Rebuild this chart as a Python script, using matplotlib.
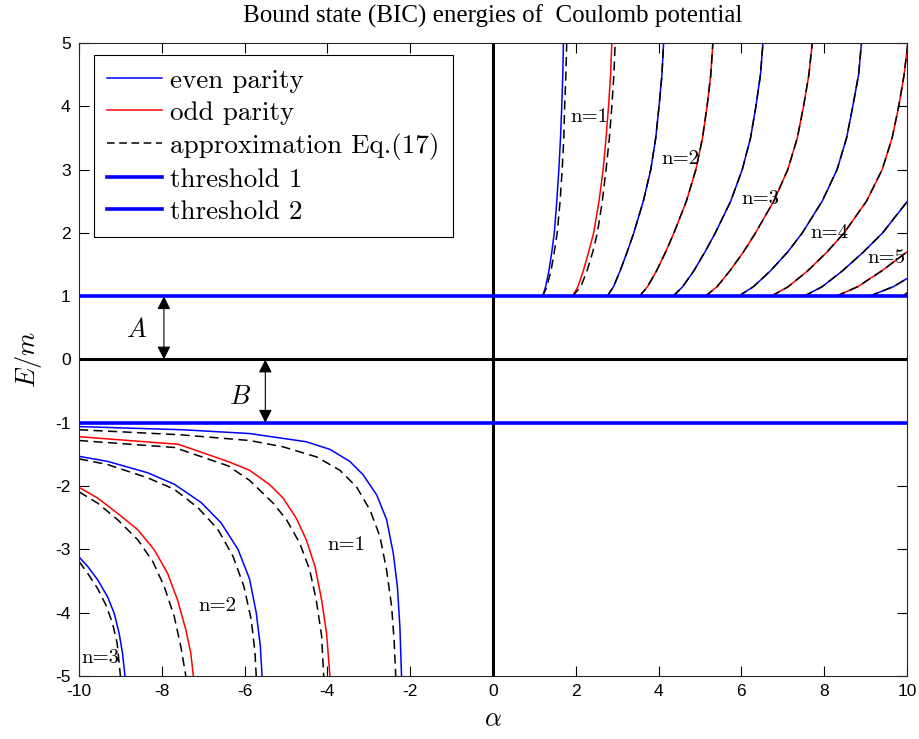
import matplotlib
matplotlib.use("Agg")
from matplotlib import pyplot as plt
from matplotlib.lines import Line2D
import numpy as np

plt.rcParams['mathtext.fontset'] = 'cm'
plt.rcParams['axes.unicode_minus'] = False

##-----------------------------------------------------------------------------
## data

# upper branch (E > m): energy grid shared by the curves that reach E/m = 5
E_up = [1.0, 1.15, 1.4, 1.7, 2.0, 2.5, 3.0, 3.5, 4.0, 4.5, 5.0]

even_up_1 = [1.20, 1.27, 1.35, 1.42, 1.48, 1.54, 1.59, 1.63, 1.66, 1.685, 1.70]
even_up_3 = [2.76, 2.91, 3.07, 3.24, 3.40, 3.63, 3.81, 3.93, 4.01, 4.08, 4.12]
even_up_5 = [4.35, 4.58, 4.85, 5.12, 5.37, 5.74, 6.02, 6.22, 6.35, 6.46, 6.52]
even_up_7 = [5.93, 6.29, 6.70, 7.12, 7.47, 7.95, 8.31, 8.54, 8.69, 8.83, 8.90]
even_up_9 = ([7.51, 7.95, 8.44, 8.95, 9.41, 10.01], [1.0, 1.15, 1.4, 1.7, 2.0, 2.5])
even_up_11 = ([9.09, 9.67, 10.31], [1.0, 1.15, 1.4])

odd_up_2 = [1.92, 2.05, 2.18, 2.31, 2.43, 2.56, 2.66, 2.73, 2.79, 2.84, 2.87]
odd_up_4 = [3.54, 3.73, 3.95, 4.17, 4.37, 4.67, 4.90, 5.06, 5.17, 5.26, 5.31]
odd_up_6 = [5.13, 5.41, 5.72, 6.05, 6.34, 6.78, 7.12, 7.35, 7.50, 7.63, 7.71]
odd_up_8 = [6.72, 7.13, 7.60, 8.07, 8.48, 9.02, 9.40, 9.64, 9.80, 9.93, 10.02]
odd_up_10 = ([8.29, 8.81, 9.39, 10.0], [1.0, 1.15, 1.4, 1.7])
odd_up_12 = ([9.90, 10.20], [1.0, 1.15])

approx_up_1 = [1.20, 1.30, 1.40, 1.48, 1.55, 1.62, 1.67, 1.71, 1.73, 1.76, 1.78]
approx_up_2 = [1.92, 2.12, 2.27, 2.41, 2.52, 2.64, 2.73, 2.81, 2.87, 2.92, 2.95]

# lower branch (E < -m)
even_lo_1 = ([-10, -7.5, -5.88, -4.51, -3.94, -3.46, -3.14, -2.81, -2.57, -2.41, -2.31, -2.25, -2.21],
             [-1.06, -1.11, -1.17, -1.30, -1.42, -1.61, -1.82, -2.14, -2.53, -3.06, -3.59, -4.22, -5.0])
approx_lo_1 = ([-10, -7.54, -5.88, -5.07, -4.26, -3.70, -3.30, -2.97, -2.73, -2.57, -2.45, -2.39, -2.35],
               [-1.11, -1.19, -1.28, -1.38, -1.54, -1.75, -2.01, -2.38, -2.80, -3.33, -3.90, -4.43, -5.0])
odd_lo_1 = ([-10, -7.6, -6.41, -5.88, -5.39, -5.07, -4.75, -4.51, -4.30, -4.14, -4.02, -3.94],
            [-1.22, -1.34, -1.61, -1.75, -1.98, -2.19, -2.51, -2.85, -3.27, -3.80, -4.33, -5.0])
approx_lo_2 = ([-10, -7.7, -6.40, -5.88, -5.31, -4.99, -4.67, -4.43, -4.27, -4.14, -4.09],
               [-1.28, -1.39, -1.68, -1.91, -2.27, -2.53, -2.90, -3.32, -3.80, -4.37, -5.0])
even_lo_2 = ([-10, -9.31, -8.34, -7.70, -7.05, -6.57, -6.16, -5.88, -5.72, -5.62, -5.58],
             [-1.53, -1.61, -1.79, -1.97, -2.26, -2.58, -3.00, -3.47, -4.00, -4.53, -5.0])
approx_lo_3 = ([-10, -9.31, -8.34, -7.70, -7.13, -6.65, -6.28, -6.02, -5.84, -5.75, -5.72],
               [-1.57, -1.66, -1.87, -2.05, -2.34, -2.68, -3.11, -3.58, -4.11, -4.63, -5.0])
odd_lo_2 = ([-10, -9.55, -9.07, -8.58, -8.18, -7.86, -7.62, -7.42, -7.30, -7.24],
            [-2.02, -2.19, -2.43, -2.69, -3.01, -3.38, -3.80, -4.27, -4.64, -5.0])
approx_lo_4 = ([-10, -9.55, -9.07, -8.58, -8.22, -7.94, -7.70, -7.54, -7.42],
               [-2.09, -2.27, -2.53, -2.85, -3.19, -3.59, -4.06, -4.54, -5.0])
even_lo_3 = ([-10, -9.79, -9.55, -9.31, -9.15, -9.03, -8.95, -8.89],
             [-3.12, -3.27, -3.48, -3.75, -4.01, -4.33, -4.64, -5.0])
approx_lo_5 = ([-10, -9.79, -9.55, -9.35, -9.19, -9.08, -9.0],
               [-3.19, -3.38, -3.62, -3.88, -4.17, -4.48, -5.0])

# curve labels: (alpha, E, text)
labels_up = [(1.86, 3.83, 'n=1'), (4.06, 3.17, 'n=2'), (5.99, 2.53, 'n=3'),
             (7.67, 2.00, 'n=4'), (9.04, 1.60, 'n=5')]
labels_lo = [(-3.99, -2.93, 'n=1'), (-7.12, -3.90, 'n=2'), (-9.94, -4.72, 'n=3')]

threshold_1 = 1.0
threshold_2 = -1.0

x_ticks = [-10, -8, -6, -4, -2, 0, 2, 4, 6, 8, 10]
y_ticks = [-5, -4, -3, -2, -1, 0, 1, 2, 3, 4, 5]

##-----------------------------------------------------------------------------

fig = plt.figure(figsize=(9.2, 7.39), dpi=100)
ax = fig.add_axes([0.0859, 0.0853, 0.9, 0.8565])

blue = (0, 0, 1)
red = (1, 0, 0)
lw_c = 1.1
dash_ls = (0, (6, 3.5))

for a in [even_up_1, even_up_3, even_up_5, even_up_7]:
    ax.plot(a, E_up, color=blue, lw=lw_c)
for a, e in [even_up_9, even_up_11, even_lo_1, even_lo_2, even_lo_3]:
    ax.plot(a, e, color=blue, lw=lw_c)
for a in [odd_up_2, odd_up_4, odd_up_6, odd_up_8]:
    ax.plot(a, E_up, color=red, lw=lw_c)
for a, e in [odd_up_10, odd_up_12, odd_lo_1, odd_lo_2]:
    ax.plot(a, e, color=red, lw=lw_c)

# approximation Eq.(17): lies on top of the exact curves for the higher upper ones
for a in [approx_up_1, approx_up_2, even_up_3, odd_up_4, even_up_5, odd_up_6,
          even_up_7, odd_up_8]:
    ax.plot(a, E_up, color='k', lw=lw_c, ls=dash_ls)
for a, e in [even_up_9, odd_up_10, even_up_11, odd_up_12,
             approx_lo_1, approx_lo_2, approx_lo_3, approx_lo_4, approx_lo_5]:
    ax.plot(a, e, color='k', lw=lw_c, ls=dash_ls)

ax.axhline(0, color='k', lw=2.2)
ax.axvline(0, color='k', lw=2.2)
ax.axhline(threshold_1, color=blue, lw=2.6)
ax.axhline(threshold_2, color=blue, lw=2.6)

for x, y, s in labels_up + labels_lo:
    ax.text(x, y, s, family='cmr10', fontsize=15, va='center', ha='left')

# gaps A and B
arr = dict(arrowstyle='<|-|>', color='k', lw=0.8, mutation_scale=20, shrinkA=0, shrinkB=0)
ax.annotate('', xy=(-7.95, 1.0), xytext=(-7.95, 0.0), arrowprops=arr)
ax.annotate('', xy=(-5.5, 0.0), xytext=(-5.5, -1.0), arrowprops=arr)
ax.text(-8.6, 0.47, '$A$', fontsize=19, ha='center', va='center')
ax.text(-6.1, -0.59, '$B$', fontsize=19, ha='center', va='center')

ax.set_xlim(-10, 10)
ax.set_ylim(-5, 5)
ax.set_xticks(x_ticks)
ax.set_xticklabels([str(t) for t in x_ticks], family='Liberation Sans', fontsize=12.5)
ax.set_yticks(y_ticks)
ax.set_yticklabels([str(t) for t in y_ticks], family='Liberation Sans', fontsize=12.5)
ax.tick_params(direction='in', top=True, right=True, length=7, width=0.8, pad=6)
for sp in ax.spines.values():
    sp.set_linewidth(0.8)
    sp.set_color('#262626')

ax.set_xlabel(r'$\alpha$', fontsize=19, labelpad=5)
ax.set_ylabel(r'$E/m$', fontsize=19, labelpad=8)
ax.set_title('Bound state (BIC) energies of  Coulomb potential',
             family='Liberation Serif', fontsize=18, pad=15)

handles = [Line2D([], [], color=blue, lw=lw_c),
           Line2D([], [], color=red, lw=lw_c),
           Line2D([], [], color='k', lw=lw_c, ls=(0, (5, 3))),
           Line2D([], [], color=blue, lw=2.6),
           Line2D([], [], color=blue, lw=2.6)]
names = ['even parity', 'odd parity', 'approximation Eq.(17)', 'threshold 1', 'threshold 2']
leg = ax.legend(handles, names, loc='upper left', bbox_to_anchor=(0.018, 0.981),
                prop={'family': 'cmr10', 'size': 19.5}, frameon=True, fancybox=False,
                edgecolor='k', framealpha=1, borderaxespad=0, handlelength=2.0,
                handletextpad=0.3, labelspacing=0.3, borderpad=0.5)
leg.get_frame().set_linewidth(0.8)

fig.savefig('out.png', dpi=100)
